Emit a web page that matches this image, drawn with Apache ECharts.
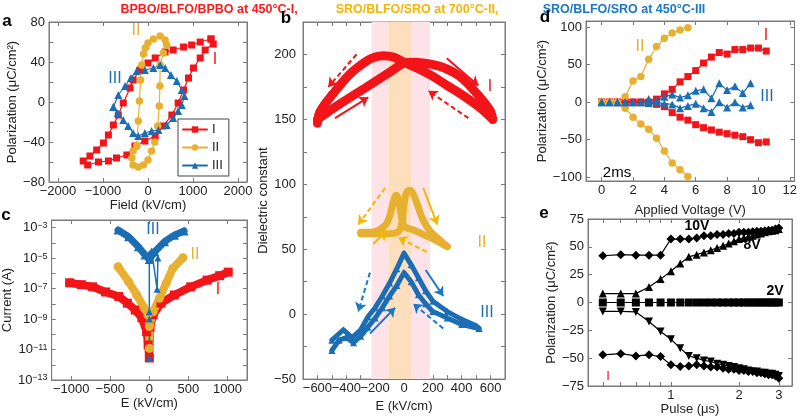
<!DOCTYPE html>
<html><head><meta charset="utf-8">
<script src="https://cdn.jsdelivr.net/npm/echarts@6/dist/echarts.min.js"></script>
<style>html,body{margin:0;padding:0;background:#fff}#c{width:800px;height:418px}</style>
</head><body><div id="c"></div><script>
// ---------- DATA ----------
// Panel a: P-E loops (Field kV/cm, Polarization uC/cm2)
const loopI = [[1400,63],[1160,60],[970,57],[790,55],[560,52],[380,50],[160,44],[0,39],[-180,32],[-330,22],[-400,14],[-550,-1],[-660,-13],[-770,-23],[-880,-33],[-990,-41],[-1140,-48],[-1290,-54],[-1440,-59],[-1340,-63],[-1100,-60],[-880,-59],[-700,-56],[-470,-53],[-290,-44],[-70,-39],[160,-34],[340,-24],[530,-13],[670,-1],[790,12],[900,24],[1010,34],[1160,44],[1270,52],[1450,58],[1400,63]];
const loopII = [[-250,-44],[-215,-19],[-190,1],[-165,22],[-140,37],[-100,48],[-60,54],[0,59],[120,63],[270,66],[380,62],[415,57],[340,49],[270,37],[265,16],[250,-4],[215,-24],[150,-40],[80,-49],[0,-58],[-100,-63],[-215,-65],[-330,-63],[-360,-56],[-330,-49],[-250,-44]];
const loopIII = [[-770,-5],[-660,7],[-510,16],[-380,24],[-250,31],[-70,32],[120,34],[270,37],[380,34],[510,27],[640,21],[750,12],[810,6],[750,-3],[670,-9],[560,-16],[415,-23],[230,-28],[80,-29],[-70,-31],[-215,-34],[-330,-31],[-440,-24],[-550,-18],[-670,-11],[-770,-5]];
const aXTicks = [-2000,-1000,0,1000,2000];
const aYTicks = [-80,-40,0,40,80];

// Panel b: dielectric constant vs E
const bRed1 = [[615,150],[527,159],[388,170],[300,176],[203,183],[100,189],[0,194],[-74,198],[-143,199],[-200,198],[-259,195],[-374,185],[-490,170],[-582,156],[-600,147]];
const bRed2 = [[-600,150],[-443,162],[-259,175],[-97,186.5],[-7,193],[42,194],[157,193],[272,190],[388,183],[504,170],[596,157],[615,150]];
const bYelA = [[-300,63],[-230,63],[-170,65],[-120,70],[-90,79],[-70,88],[-55,91.5],[-40,89],[-25,80],[-10,71],[10,67],[60,65],[120,62],[200,58],[300,52]];
const bYelB = [[300,52],[250,57],[180,64],[130,73],[100,82],[70,91],[42,95.5],[20,94],[5,88],[-5,79],[-15,70],[-35,64],[-90,62],[-170,62],[-300,62]];
const bBluUp = [[-500,-20],[-420,-12],[-360,-18],[-300,-12],[-250,-2],[-200,5],[-150,14],[-100,24],[-50,35],[0,47],[50,38],[100,28],[150,18],[200,10],[300,2],[400,-4],[500,-9],[520,-11]];
const bBluLo = [[-500,-28],[-450,-20],[-400,-18],[-350,-22],[-300,-17],[-250,-10],[-200,-3],[-150,5],[-100,14],[-50,22],[0,32],[50,25],[100,15],[150,8],[200,2],[300,-3],[400,-8],[520,-11]];
const bBandsPink = [[-224,-109],[53,180]];
const bBandOrange = [-109,53];
const bArrRedSolid = [[[-478,151],[-247,167]],[[296,197],[515,176]]];
const bArrRedDash = [[[-329,200],[-525,175]],[[446,151],[169,172]]];
const bArrYelSolid = [[[134,97],[231,69]],[[-213,54],[-120,64]]];
const bArrYelDash = [[[-132,97],[-317,69]],[[157,48],[-40,59]]];
const bArrBluSolid = [[[-236,-15],[-62,5]],[[150,34],[272,14]]];
const bArrBluDash = [[[-236,32],[-317,2]],[[272,-11],[64,8]]];
const bXLabelsA = [-600,-200,200,600];
const bXLabelsB = [-400,0,400];
const bXTicks = [-600,-500,-400,-300,-200,-100,0,100,200,300,400,500,600];
const bYTicks = [-50,0,50,100,150,200];

// Panel c: leakage current (A) vs E
const cI = [[-1020,2.4e-7],[-870,1.8e-7],[-725,1.3e-7],[-560,6e-8],[-390,3e-8],[-280,1.1e-8],[-180,3.9e-9],[-95,1.2e-9],[-35,1.5e-10],[-15,2e-11],[0,2.8e-12],[10,3e-10],[50,1.9e-9],[150,1.1e-8],[320,3.8e-8],[530,1.3e-7],[740,3.6e-7],[900,7e-7],[1010,1.2e-6]];
const cII = [[-400,2.7e-6],[-265,2.8e-7],[-160,3.8e-8],[-75,6.5e-9],[-20,1.9e-9],[0,3.2e-10],[0,1.2e-11],[5,4e-10],[50,3e-9],[130,2.3e-8],[215,2.2e-7],[300,2.1e-6],[430,1.05e-5]];
const cIII = [[-400,6.9e-4],[-265,2.5e-4],[-140,5.6e-5],[-55,1.6e-5],[0,8e-6],[70,2.6e-5],[195,1.2e-4],[320,3.2e-4],[445,6e-4]];
const cIIIspikes = [[0,1e-5],[0,3e-9],[0,2.9e-12],[0,1e-9],[0,2e-5],[30,3e-5],[100,9e-8],[110,1e-5]];
const cXTicks = [-1000,-500,0,500,1000];
const cYLabels = [1e-13,1e-11,1e-9,1e-7,1e-5,1e-3];
const cYTicks = [1e-13,1e-12,1e-11,1e-10,1e-9,1e-8,1e-7,1e-6,1e-5,1e-4,1e-3];

// Panel d: polarization vs applied voltage (2 ms)
const dV = [0,0.5,1,1.5,2,2.5,3,3.5,4,4.5,5,5.5,6,6.5,7,7.5,8,8.5,9,9.5,10,10.5];
const dIup = [0,0,0,0,0,0,0,4,11,17,27,34,42,52,60,66,64,70,70,72,72,68];
const dIdn = [0,0,0,0,0,0,-1,-3,-6,-14,-20,-24,-30,-34,-37,-40,-42,-44,-46,-50,-54,-53];
const dIIup = [0,0,0,7,28,34,57,74,85,92,96,99];
const dIIdn = [0,0,-1,-8,-20,-29,-36,-48,-65,-81,-90,-99];
const dIIIa = [0,0,0,0,0,0,4,2,7,10,6,9,15,17,5,25,16,21,12,25];
const dIIIb = [0,0,0,0,0,0,-1,0,-2,-3,-8,-5,-2,-8,-13,0,-7,0,-7,-4];
const dXTicks = [0,2,4,6,8,10,12];
const dYTicks = [-100,-50,0,50,100];

// Panel e: polarization vs pulse width (us)
const ePulse = [0.5,0.6,0.7,0.8,0.9,1.0,1.1,1.2,1.3,1.4,1.5,1.6,1.7,1.8,1.9,2.0,2.1,2.2,2.3,2.4,2.5,2.6,2.7,2.8,2.9,3.0];
const e10up = [42,43,42.5,42.5,42.5,57,57,57,58,60,60,61,61,62,62,63,63,63,63.5,64,64,64.5,65,65,66,67];
const e8up = [8,8,8,14,21,28,35,41,43,45,47,49,51,53,55,57,58,59,60,61,62,63,64,64.5,65,66];
const e2 = [0,0,0,0,0,0,0,0,0,0,0,0,0,0,0,0,0,0,0,0,0,0,0,0,0,0];
const e8dn = [-8,-8,-8.5,-17,-26,-33,-41,-48,-50,-52,-53,-55,-56,-57,-58,-59,-60,-61,-62,-62,-63,-63,-64,-64,-65,-66];
const e10dn = [-47,-46,-48,-47,-48.5,-56,-57.5,-57,-56,-57,-58,-58,-59,-60,-60,-61,-61,-62,-62,-63,-63,-64,-65,-65,-66,-68];
const eXLabels = [1,2,3];
const eXTicks = [0.5,0.6,0.7,0.8,0.9,1,2,3];
const eYTicks = [-75,-50,-25,0,25,50,75];

// ---------- STYLE ----------
const FONT = '"Liberation Sans", Arial, sans-serif';
const AX = '#7a7a7a';
const RED = '#f31419', YEL = '#e8b031', BLU = '#1b6eb4';
const minus = v => String(v).replace('-', '\u2212');
const pairs = (xs, ys) => ys.map((y, i) => [xs[i], y]);

function axis(o) {
  const a = {
    type: o.type || 'value', gridIndex: o.g, min: o.min, max: o.max,
    position: o.pos, logBase: 10,
    name: o.name || '', nameLocation: 'middle', nameGap: o.gap || 20,
    nameTextStyle: {color: '#222', fontSize: 13, fontFamily: FONT},
    axisLine: {show: !o.bare, onZero: false, lineStyle: {color: AX, width: 1}},
    axisTick: {show: !o.bare, inside: true, length: 4, lineStyle: {color: AX}, customValues: o.ticks},
    axisLabel: {show: !o.mirror, color: '#222', fontSize: 13, fontFamily: FONT, margin: o.margin || 3,
      customValues: o.labels || o.ticks, formatter: o.fmt || minus, rich: o.rich, hideOverlap: false,
      interval: 0, showMinLabel: true, showMaxLabel: true},
    splitLine: {show: false}, minorTick: {show: false}
  };
  if (o.type !== 'log') delete a.logBase;
  if (o.mirror || o.bare) { a.name = ''; }
  return a;
}
const sciFmt = v => { const e = Math.round(Math.log10(v)); return '{b|10}{s|' + (e < 0 ? '\u2212' : '') + Math.abs(e) + '}'; };
const sciRich = {b: {fontSize: 13, fontFamily: FONT, color: '#222'}, s: {fontSize: 9, fontFamily: FONT, color: '#222', verticalAlign: 'top'}};

const grids = [
  {left: 49, top: 22, width: 198, height: 160},
  {left: 303, top: 22, width: 202, height: 360},
  {left: 49, top: 220, width: 198, height: 160},
  {left: 586, top: 21, width: 212, height: 160},
  {left: 588, top: 219, width: 204, height: 167}
].map(g => Object.assign({show: true, borderColor: AX, borderWidth: 1, backgroundColor: 'transparent'}, g));

const xSpec = [
  {g: 0, min: -2200, max: 2200, ticks: aXTicks, name: 'Field (kV/cm)', gap: 14},
  {g: 1, min: -700, max: 700, ticks: bXTicks, labels: bXLabelsA, name: 'E (kV/cm)', gap: 18},
  {g: 2, min: -1250, max: 1250, ticks: cXTicks, name: 'E (kV/cm)', gap: 16},
  {g: 3, min: -1, max: 12.3, ticks: dXTicks, name: 'Applied Voltage (V)', gap: 23},
  {g: 4, type: 'log', min: 0.43, max: 3.43, ticks: eXTicks, labels: eXLabels, name: 'Pulse (\u03bcs)', gap: 17, fmt: v => String(Math.round(v))}
];
const ySpec = [
  {g: 0, min: -80, max: 80, ticks: [-80,-60,-40,-20,0,20,40,60,80], labels: aYTicks, name: 'Polarization (\u03bcC/cm\u00b2)', gap: 27, margin: 4},
  {g: 1, min: -50, max: 225, ticks: [-50,-25,0,25,50,75,100,125,150,175,200,225], labels: bYTicks, name: 'Dielectric constant', gap: 28, margin: 7},
  {g: 2, type: 'log', min: 1e-13, max: 3.16e-3, ticks: cYTicks, labels: cYLabels, name: 'Current (A)', gap: 27, margin: 4, fmt: sciFmt, rich: sciRich},
  {g: 3, min: -105, max: 108, ticks: [-100,-50,0,50,100], labels: dYTicks, name: 'Polarization (\u03bcC/cm\u00b2)', gap: 27, margin: 4},
  {g: 4, min: -75, max: 75, ticks: eYTicks, name: 'Polarization (\u03bcC/cm\u00b2)', gap: 29, margin: 4}
];
const xAxes = xSpec.map(s => axis(Object.assign({pos: 'bottom'}, s)))
  .concat(xSpec.map(s => axis(Object.assign({}, s, {pos: 'top', mirror: true}))))
  .concat([axis({g: 1, min: -700, max: 700, pos: 'bottom', bare: true, ticks: bXTicks, labels: bXLabelsB})]);
const yAxes = ySpec.map(s => axis(Object.assign({pos: 'left'}, s)))
  .concat(ySpec.map(s => axis(Object.assign({}, s, {pos: 'right', mirror: true}))));

function line(name, g, data, color, o) {
  o = o || {};
  return {
    type: 'line', name: name, xAxisIndex: g, yAxisIndex: g, data: data,
    symbol: o.symbol || 'none', symbolSize: o.size || 7, symbolRotate: o.rot || 0,
    showSymbol: !!o.symbol, smooth: o.smooth || false, z: o.z || 3,
    itemStyle: {color: color}, lineStyle: {color: color, width: o.width || 1.2, cap: 'round', join: 'round'},
    emphasis: {disabled: true}, silent: true, clip: true
  };
}
function arrows(data, color, dashed) {
  return {
    type: 'lines', coordinateSystem: 'cartesian2d', xAxisIndex: 1, yAxisIndex: 1, z: 6,
    symbol: ['none', 'arrow'], symbolSize: 9,
    lineStyle: {color: color, width: 2, type: dashed ? [5, 3] : 'solid', opacity: 1, curveness: 0},
    data: data.map(c => ({coords: c})), silent: true
  };
}

const series = [
  // a
  line('I', 0, loopI, RED, {symbol: 'rect', size: 7}),
  line('II', 0, loopII, YEL, {symbol: 'circle', size: 7.5}),
  line('III', 0, loopIII, BLU, {symbol: 'triangle', size: 8}),
  // b bands
  {type: 'line', name: 'bands', xAxisIndex: 1, yAxisIndex: 1, data: [], z: 1, silent: true,
   markArea: {silent: true, data: [
     [{xAxis: bBandsPink[0][0], itemStyle: {color: '#fde3e7'}}, {xAxis: bBandsPink[0][1]}],
     [{xAxis: bBandOrange[0], itemStyle: {color: '#fddfbd'}}, {xAxis: bBandOrange[1]}],
     [{xAxis: bBandsPink[1][0], itemStyle: {color: '#fde3e7'}}, {xAxis: bBandsPink[1][1]}]
   ]}},
  line('b-I-1', 1, bRed1, RED, {width: 9, smooth: 0.35}),
  line('b-I-2', 1, bRed2, RED, {width: 9, smooth: 0.35}),
  line('b-II-1', 1, bYelA, YEL, {width: 7, smooth: 0.4}),
  line('b-II-2', 1, bYelB, YEL, {width: 7, smooth: 0.4}),
  line('b-III-1', 1, bBluUp, BLU, {width: 5, symbol: 'triangle', size: 7}),
  line('b-III-2', 1, bBluLo, BLU, {width: 5, symbol: 'triangle', size: 7}),
  arrows(bArrRedSolid, RED, false), arrows(bArrRedDash, RED, true),
  arrows(bArrYelSolid, '#f5b800', false), arrows(bArrYelDash, '#f5b800', true),
  arrows(bArrBluSolid, '#1a78c8', false), arrows(bArrBluDash, '#1a78c8', true),
  // c
  line('c-I', 2, cI, RED, {width: 8, symbol: 'rect', size: 9}),
  line('c-II', 2, cII, YEL, {width: 8, symbol: 'circle', size: 9}),
  line('c-III', 2, cIII, BLU, {width: 7, symbol: 'triangle', size: 9}),
  line('c-III-s', 2, cIIIspikes, BLU, {width: 1.5, symbol: 'triangle', size: 7}),
  // d
  line('d-I-up', 3, pairs(dV, dIup), RED, {symbol: 'rect', size: 7}),
  line('d-I-dn', 3, pairs(dV, dIdn), RED, {symbol: 'rect', size: 7}),
  line('d-II-up', 3, pairs(dV, dIIup), YEL, {symbol: 'circle', size: 7.5}),
  line('d-II-dn', 3, pairs(dV, dIIdn), YEL, {symbol: 'circle', size: 7.5}),
  line('d-III-a', 3, pairs(dV, dIIIa), BLU, {symbol: 'triangle', size: 8}),
  line('d-III-b', 3, pairs(dV, dIIIb), BLU, {symbol: 'triangle', size: 8}),
  // e
  line('e-10-up', 4, pairs(ePulse, e10up), '#000', {symbol: 'diamond', size: 9}),
  line('e-8-up', 4, pairs(ePulse, e8up), '#000', {symbol: 'triangle', size: 8}),
  line('e-2', 4, pairs(ePulse, e2), '#000', {symbol: 'rect', size: 8}),
  line('e-8-dn', 4, pairs(ePulse, e8dn), '#000', {symbol: 'triangle', size: 8, rot: 180}),
  line('e-10-dn', 4, pairs(ePulse, e10dn), '#000', {symbol: 'diamond', size: 9})
];

function txt(x, y, t, color, size, bold, align) {
  return {type: 'text', x: x, y: y, z: 100, silent: true,
    style: {text: t, fill: color, font: (bold ? 'bold ' : '') + size + 'px ' + FONT,
      textAlign: align || 'center', textVerticalAlign: 'middle'}};
}
const graphics = [
  txt(209, 10, 'BPBO/BLFO/BPBO at 450\u00b0C-I,', '#ff1a1a', 12.5, true),
  txt(417, 10, 'SRO/BLFO/SRO at 700\u00b0C-II,', '#f7b500', 12.5, true),
  txt(624, 10, 'SRO/BLFO/SRO at 450\u00b0C-III', '#1a78c4', 12.5, true),
  txt(7, 21, 'a', '#000', 17, true), txt(286, 18, 'b', '#000', 17, true),
  txt(6, 215, 'c', '#000', 17, true), txt(545, 17, 'd', '#000', 17, true),
  txt(544, 213, 'e', '#000', 17, true),
  txt(136, 31, 'II', YEL, 16), txt(115, 79, 'III', BLU, 16), txt(215, 60, 'I', RED, 16),
  txt(153, 230, 'III', BLU, 16), txt(195, 255, 'II', YEL, 16), txt(218, 290, 'I', RED, 16),
  txt(490, 87, 'I', RED, 16), txt(482, 243, 'II', YEL, 16), txt(487, 313, 'III', BLU, 16),
  txt(640, 47, 'II', YEL, 16), txt(766, 36, 'I', RED, 16), txt(767, 97, 'III', BLU, 16),
  txt(617, 173, '2ms', '#000', 15),
  txt(697, 226, '10V', '#000', 14, true), txt(752, 245, '8V', '#000', 14, true),
  txt(775, 291, '2V', '#000', 14, true), txt(608, 376, 'I', RED, 13)
];

const chart = echarts.init(document.getElementById('c'), null, {renderer: 'canvas'});
chart.setOption({
  animation: false,
  backgroundColor: '#fff',
  textStyle: {fontFamily: FONT},
  grid: grids, xAxis: xAxes, yAxis: yAxes, series: series, graphic: graphics,
  legend: {
    data: ['I', 'II', 'III'], orient: 'vertical', left: 178, top: 119,
    itemWidth: 24, itemHeight: 8, itemGap: 5, padding: [4, 6, 4, 4],
    borderColor: '#444', borderWidth: 1, backgroundColor: '#fff',
    textStyle: {fontSize: 13, color: '#222', fontFamily: FONT}, selectedMode: false
  }
});
</script></body></html>
